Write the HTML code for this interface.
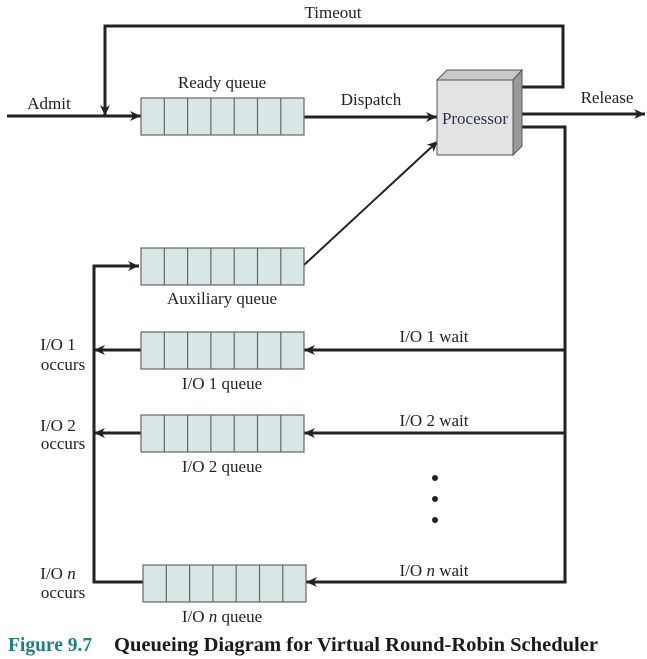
<!DOCTYPE html>
<html><head><style>
html,body{margin:0;padding:0;background:#fff;}
svg{display:block;}
text{font-family:"Liberation Serif",serif;fill:#222;font-size:17px;}
</style></head><body>
<svg width="647" height="659" viewBox="0 0 647 659" xmlns="http://www.w3.org/2000/svg">
<defs>
<marker id="a" viewBox="0 0 10 10" refX="10" refY="5" markerWidth="15" markerHeight="11" markerUnits="userSpaceOnUse" orient="auto"><path d="M0,0.5 L10,5 L0,9.5 L3,5 z" fill="#222"/></marker>
<g id="q">
<rect x="0" y="0" width="163" height="37" fill="#d8e7e5" stroke="#666" stroke-width="1.2"/>
<path d="M23.3,0v37M46.6,0v37M69.9,0v37M93.2,0v37M116.5,0v37M139.8,0v37" stroke="#666" stroke-width="1.2"/>
</g>
</defs>
<g stroke="#222" stroke-width="3" fill="none">
<line x1="7" y1="116" x2="141" y2="116" marker-end="url(#a)"/>
<polyline points="518,87 563,87 563,26 105,26 105,116" marker-end="url(#a)"/>
<line x1="304" y1="117" x2="437" y2="117" marker-end="url(#a)"/>
<line x1="518" y1="114" x2="645" y2="114" marker-end="url(#a)"/>
<polyline points="518,127 565,127 565,582 306,582" marker-end="url(#a)"/>
<line x1="565" y1="350" x2="304" y2="350" marker-end="url(#a)"/>
<line x1="565" y1="433" x2="304" y2="433" marker-end="url(#a)"/>
<line x1="141" y1="350" x2="94" y2="350" marker-end="url(#a)"/>
<line x1="141" y1="433" x2="94" y2="433" marker-end="url(#a)"/>
<polyline points="143,582 94,582 94,266 139,266" marker-end="url(#a)"/>
</g>
<line x1="304" y1="265" x2="438" y2="141" stroke="#222" stroke-width="2" marker-end="url(#a)"/>
<use href="#q" x="141" y="98"/>
<use href="#q" x="141" y="248"/>
<use href="#q" x="141" y="332"/>
<use href="#q" x="141" y="415"/>
<use href="#q" x="143" y="565"/>
<polygon points="437,80 447,70 522,70 513,80" fill="#c8c8c8" stroke="#555" stroke-width="1"/>
<polygon points="513,80 522,70 522,146 513,155" fill="#9a9a9a" stroke="#555" stroke-width="1"/>
<rect x="437" y="80" width="76" height="75" fill="#e3e3e3" stroke="#555" stroke-width="1"/>
<text x="475" y="124" text-anchor="middle" style="fill:#2a3350">Processor</text>
<circle cx="435" cy="478" r="3" fill="#222"/>
<circle cx="435" cy="499" r="3" fill="#222"/>
<circle cx="435" cy="520" r="3" fill="#222"/>
<text x="333" y="18" text-anchor="middle">Timeout</text>
<text x="222" y="88" text-anchor="middle">Ready queue</text>
<text x="49" y="109" text-anchor="middle">Admit</text>
<text x="371" y="105" text-anchor="middle">Dispatch</text>
<text x="607" y="103" text-anchor="middle">Release</text>
<text x="222" y="304" text-anchor="middle">Auxiliary queue</text>
<text x="222" y="389" text-anchor="middle">I/O 1 queue</text>
<text x="222" y="472" text-anchor="middle">I/O 2 queue</text>
<text x="222" y="622" text-anchor="middle">I/O <tspan font-style="italic">n</tspan> queue</text>
<text x="434" y="342" text-anchor="middle">I/O 1 wait</text>
<text x="434" y="426" text-anchor="middle">I/O 2 wait</text>
<text x="434" y="576" text-anchor="middle">I/O <tspan font-style="italic">n</tspan> wait</text>
<text x="58" y="350" text-anchor="middle">I/O 1</text>
<text x="63" y="370" text-anchor="middle">occurs</text>
<text x="58" y="431" text-anchor="middle">I/O 2</text>
<text x="63" y="449" text-anchor="middle">occurs</text>
<text x="58" y="579" text-anchor="middle">I/O <tspan font-style="italic">n</tspan></text>
<text x="63" y="598" text-anchor="middle">occurs</text>
<text x="8" y="651" style="font-size:19.5px;font-weight:bold;fill:#1f7f86">Figure 9.7</text>
<text x="114" y="651" textLength="484" lengthAdjust="spacingAndGlyphs" style="font-size:19.5px;font-weight:bold;fill:#1a1a1a">Queueing Diagram for Virtual Round-Robin Scheduler</text>
</svg>
</body></html>
